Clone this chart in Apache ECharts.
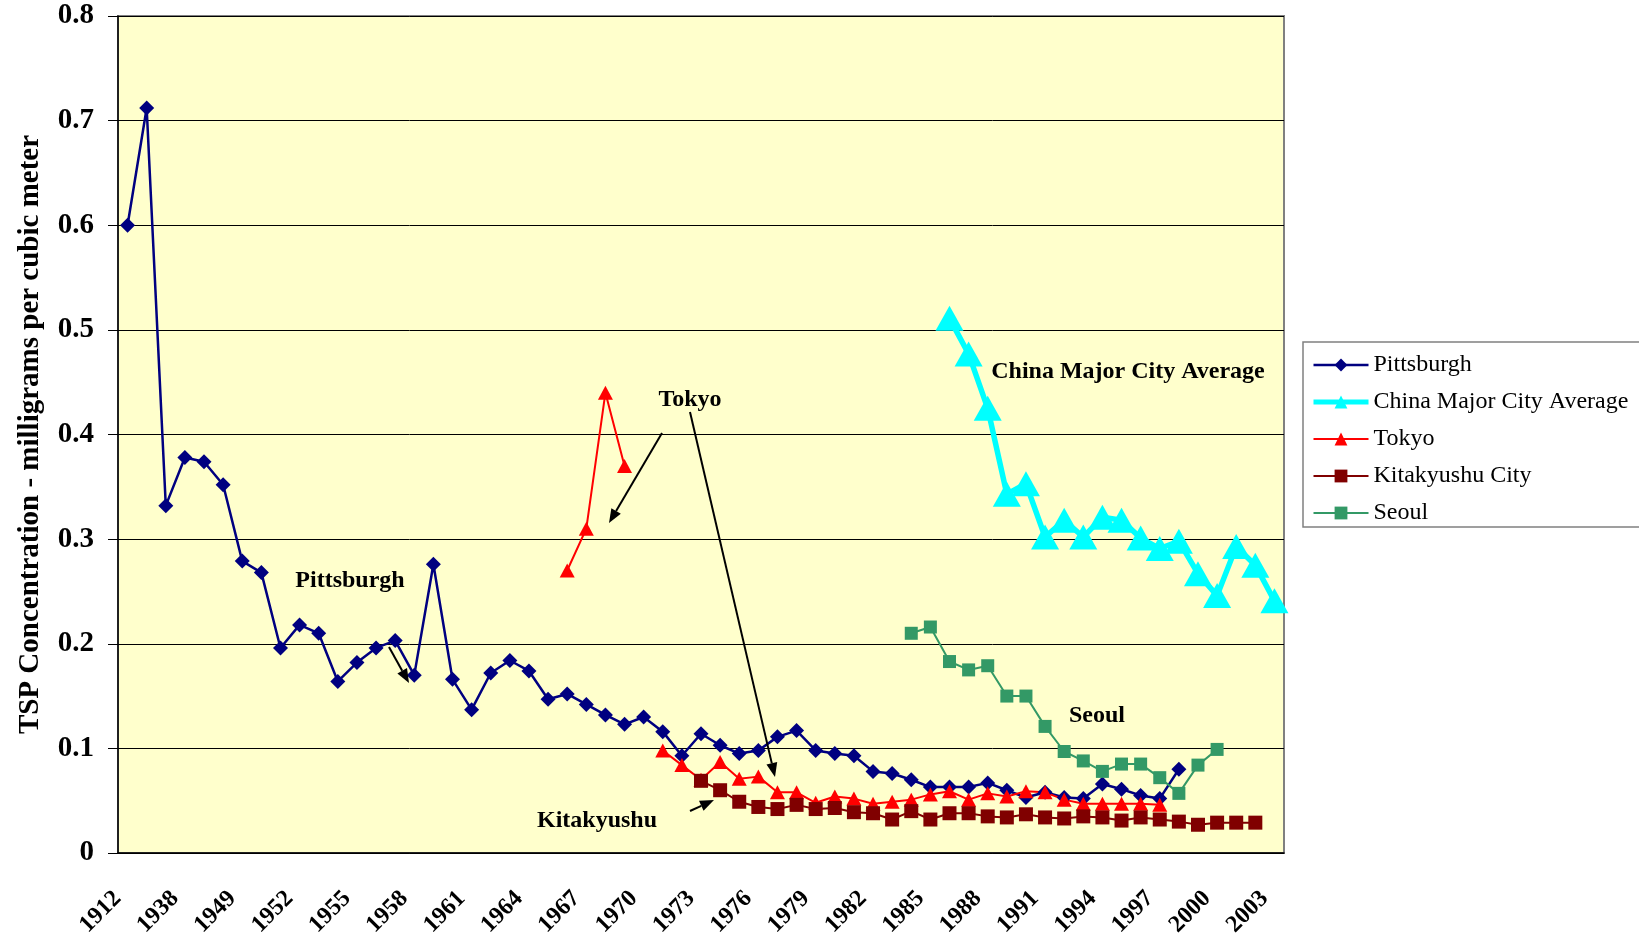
<!DOCTYPE html>
<html>
<head>
<meta charset="utf-8">
<script src="https://cdn.jsdelivr.net/npm/echarts@6/dist/echarts.min.js"></script>
<style>
  html, body { margin: 0; padding: 0; background: #fff; }
  #chart { width: 1639px; height: 934px; }
</style>
</head>
<body>
<div id="chart"></div>
<script>
// category years (only every 3rd one is labelled)
const years = [
  '1912', '1923', '1936', '1938', '1940', '1946', '1949', '1950', '1951', '1952',
  '1953', '1954', '1955', '1956', '1957', '1958', '1959', '1960', '1961', '1962',
  '1963', '1964', '1965', '1966', '1967', '1968', '1969', '1970', '1971', '1972',
  '1973', '1974', '1975', '1976', '1977', '1978', '1979', '1980', '1981', '1982',
  '1983', '1984', '1985', '1986', '1987', '1988', '1989', '1990', '1991', '1992',
  '1993', '1994', '1995', '1996', '1997', '1998', '1999', '2000', '2001', '2002',
  '2003'
];

const pittsburgh = [
  0.600, 0.712, 0.332, 0.378, 0.374, 0.352, 0.279, 0.268, 0.196, 0.218,
  0.210, 0.164, 0.182, 0.196, 0.203, 0.170, 0.276, 0.166, 0.137, 0.172,
  0.184, 0.174, 0.147, 0.152, 0.142, 0.132, 0.123, 0.130, 0.116, 0.093,
  0.114, 0.103, 0.095, 0.098, 0.111, 0.117, 0.098, 0.095, 0.093, 0.078,
  0.076, 0.070, 0.063, 0.063, 0.063, 0.067, 0.060, 0.053, 0.058, 0.053,
  0.052, 0.066, 0.061, 0.055, 0.052, 0.080
];

// series that start later: [first category index, values]
const chinaStart = 43;
const china = [
  0.511, 0.477, 0.425, 0.343, 0.353, 0.302, 0.318, 0.302, 0.321, 0.318,
  0.301, 0.291, 0.298, 0.267, 0.246, 0.293, 0.275, 0.241
];

const tokyoStart = 23;
const tokyo = [
  0.270, 0.310, 0.440, 0.370, null, 0.098, 0.084, 0.070, 0.087, 0.071,
  0.073, 0.058, 0.058, 0.048, 0.054, 0.052, 0.047, 0.049, 0.051, 0.056,
  0.059, 0.051, 0.057, 0.054, 0.059, 0.058, 0.051, 0.047, 0.047, 0.047,
  0.047, 0.046
];

const kitaStart = 30;
const kitakyushu = [
  0.069, 0.060, 0.049, 0.044, 0.042, 0.046, 0.042, 0.043, 0.039, 0.038,
  0.032, 0.040, 0.032, 0.038, 0.038, 0.035, 0.034, 0.037, 0.034, 0.033,
  0.035, 0.034, 0.031, 0.034, 0.032, 0.030, 0.027, 0.029, 0.029, 0.029
];

const seoulStart = 41;
const seoul = [
  0.210, 0.216, 0.183, 0.175, 0.179, 0.150, 0.150, 0.121, 0.097, 0.088,
  0.078, 0.085, 0.085, 0.072, 0.057, 0.084, 0.099
];

const pad = (start, vals) => new Array(start).fill(null).concat(vals);

const SERIF = '"Liberation Serif", "Times New Roman", serif';

// arrow annotation: line plus filled head
function arrow(x1, y1, x2, y2) {
  const a = Math.atan2(y2 - y1, x2 - x1);
  const L = 14, W = 5.5;
  const bx = x2 - L * Math.cos(a), by = y2 - L * Math.sin(a);
  return [
    { type: 'line', z: 100, shape: { x1, y1, x2: bx, y2: by },
      style: { stroke: '#000', lineWidth: 2 } },
    { type: 'polygon', z: 100,
      shape: { points: [[x2, y2],
        [bx + W * Math.sin(a), by - W * Math.cos(a)],
        [bx - W * Math.sin(a), by + W * Math.cos(a)]] },
      style: { fill: '#000' } }
  ];
}

function note(text, cx, cy) {
  return { type: 'text', z: 100, x: cx, y: cy,
    style: { text, font: 'bold 24px ' + SERIF, fill: '#000',
      align: 'center', verticalAlign: 'middle' } };
}

const chart = echarts.init(document.getElementById('chart'));

chart.setOption({
  animation: false,
  backgroundColor: '#fff',
  grid: {
    left: 118, top: 16, width: 1166, height: 837,
    outerBoundsMode: 'none',
    show: true, backgroundColor: '#FFFFCC',
    borderColor: '#808080', borderWidth: 2
  },
  legend: {
    orient: 'vertical',
    left: 1303, top: 342,
    backgroundColor: '#fff',
    borderColor: '#808080', borderWidth: 1.5,
    padding: [11, 40, 2, 8],
    itemGap: 13,
    itemWidth: 55, itemHeight: 16,
    textStyle: { fontFamily: SERIF, fontSize: 24, color: '#000' },
    data: [
      { name: 'Pittsburgh', lineStyle: { width: 2.5 } },
      { name: 'China Major City Average', lineStyle: { width: 5 } },
      { name: 'Tokyo', lineStyle: { width: 2 } },
      { name: 'Kitakyushu City', lineStyle: { width: 2 } },
      { name: 'Seoul', lineStyle: { width: 2 } }
    ]
  },
  xAxis: {
    type: 'category',
    data: years,
    boundaryGap: true,
    axisLine: { lineStyle: { color: '#000', width: 1.5 } },
    axisTick: { interval: 0, length: 7, lineStyle: { color: '#000' } },
    axisLabel: {
      interval: 2, rotate: 45, margin: 32, padding: [0, 14, 0, 0],
      fontFamily: SERIF, fontWeight: 'bold', fontSize: 24, color: '#000'
    },
    splitLine: { show: false }
  },
  yAxis: {
    type: 'value',
    min: 0, max: 0.8, interval: 0.1,
    name: 'TSP Concentration - milligrams per cubic meter',
    nameLocation: 'middle',
    nameGap: 73,
    nameTextStyle: { fontFamily: SERIF, fontWeight: 'bold', fontSize: 29, color: '#000' },
    axisLine: { show: true, lineStyle: { color: '#000', width: 1.5 } },
    axisTick: { show: true, length: 10, lineStyle: { color: '#000' } },
    axisLabel: {
      margin: 24,
      fontFamily: SERIF, fontWeight: 'bold', fontSize: 29, color: '#000',
      formatter: v => (v === 0 ? '0' : v.toFixed(1))
    },
    splitLine: { lineStyle: { color: '#000', width: 1 } }
  },
  series: [
    {
      name: 'Pittsburgh', type: 'line', data: pittsburgh,
      symbol: 'diamond', symbolSize: 15, showAllSymbol: true,
      itemStyle: { color: '#000080' },
      lineStyle: { color: '#000080', width: 2.5 }
    },
    {
      name: 'China Major City Average', type: 'line', data: pad(chinaStart, china),
      symbol: 'triangle', symbolSize: [28, 25], showAllSymbol: true,
      itemStyle: { color: '#00FFFF' },
      lineStyle: { color: '#00FFFF', width: 5.5 }
    },
    {
      name: 'Tokyo', type: 'line', data: pad(tokyoStart, tokyo),
      symbol: 'triangle', symbolSize: [15, 14], showAllSymbol: true,
      itemStyle: { color: '#FF0000' },
      lineStyle: { color: '#FF0000', width: 2 }
    },
    {
      name: 'Kitakyushu City', type: 'line', data: pad(kitaStart, kitakyushu),
      symbol: 'rect', symbolSize: 14, showAllSymbol: true,
      itemStyle: { color: '#800000' },
      lineStyle: { color: '#800000', width: 2 }
    },
    {
      name: 'Seoul', type: 'line', data: pad(seoulStart, seoul),
      symbol: 'rect', symbolSize: 13, showAllSymbol: true,
      itemStyle: { color: '#339966' },
      lineStyle: { color: '#339966', width: 2 }
    }
  ],
  graphic: [
    note('Pittsburgh', 350, 581),
    note('Tokyo', 690, 400),
    note('China Major City Average', 1128, 372),
    note('Seoul', 1097, 716),
    note('Kitakyushu', 597, 821),
    ...arrow(389, 647, 409, 683),
    ...arrow(662, 433, 609, 523),
    ...arrow(690, 412, 775, 777),
    ...arrow(690, 811, 714, 800)
  ]
});
</script>
</body>
</html>
